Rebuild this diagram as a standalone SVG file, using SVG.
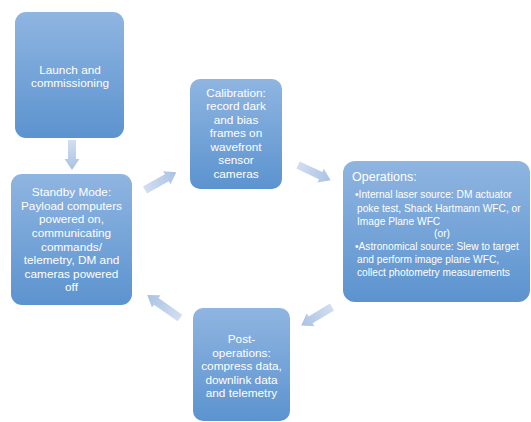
<svg xmlns="http://www.w3.org/2000/svg" width="531" height="422" viewBox="0 0 531 422">
<defs>
<linearGradient id="boxg" x1="0" y1="0" x2="0" y2="1">
<stop offset="0" stop-color="#8fb5e1"/>
<stop offset="1" stop-color="#5c93cf"/>
</linearGradient>
<linearGradient id="arrg" x1="0" y1="0" x2="1" y2="0">
<stop offset="0" stop-color="#d2def0"/>
<stop offset="1" stop-color="#a9c2e3"/>
</linearGradient>
</defs>
<style>
.box{fill:url(#boxg);}
.arr{fill:url(#arrg);}
text{font-family:"Liberation Sans",Arial,sans-serif;fill:#ffffff;}
.t{font-size:11.8px;text-anchor:middle;}
.s{font-size:10.2px;}
.h{font-size:12.5px;}
</style>
<g id="connectors">
<path class="arr" transform="translate(72,140) rotate(90)" d="M0,-4 L19,-4 L19,-7.5 L30,0 L19,7.5 L19,4 L0,4 Z"/>
<path class="arr" transform="translate(145,190) rotate(-29.4)" d="M0,-4 L25,-4 L25,-7.5 L36,0 L25,7.5 L25,4 L0,4 Z"/>
<path class="arr" transform="translate(298,165) rotate(25.1)" d="M0,-4 L25,-4 L25,-7.5 L36,0 L25,7.5 L25,4 L0,4 Z"/>
<path class="arr" transform="translate(332,307) rotate(149)" d="M0,-4 L25,-4 L25,-7.5 L36,0 L25,7.5 L25,4 L0,4 Z"/>
<path class="arr" transform="translate(180,318) rotate(-145)" d="M0,-4 L29,-4 L29,-7.5 L40,0 L29,7.5 L29,4 L0,4 Z"/>
</g>
<g id="launch">
<rect class="box" x="15" y="12" width="109" height="126" rx="11"/>
<text class="t" x="70" y="74">Launch and</text>
<text class="t" x="70" y="87">commissioning</text>
</g>
<g id="standby">
<rect class="box" x="11" y="174" width="121" height="131" rx="11"/>
<text class="t" x="71.5" y="196">Standby Mode:</text>
<text class="t" x="71.5" y="209.5">Payload computers</text>
<text class="t" x="71.5" y="223">powered on,</text>
<text class="t" x="71.5" y="237">communicating</text>
<text class="t" x="71.5" y="250.5">commands/</text>
<text class="t" x="71.5" y="264">telemetry, DM and</text>
<text class="t" x="71.5" y="277.5">cameras powered</text>
<text class="t" x="71.5" y="291">off</text>
</g>
<g id="calibration">
<rect class="box" x="190" y="79" width="92" height="110" rx="10"/>
<text class="t" x="236" y="96.5">Calibration:</text>
<text class="t" x="236" y="110">record dark</text>
<text class="t" x="236" y="123.5">and bias</text>
<text class="t" x="236" y="137">frames on</text>
<text class="t" x="236" y="150.5">wavefront</text>
<text class="t" x="236" y="164">sensor</text>
<text class="t" x="236" y="177.5">cameras</text>
</g>
<g id="operations">
<rect class="box" x="343" y="161" width="187" height="141" rx="12"/>
<text class="h" x="352" y="181">Operations:</text>
<text class="s" x="355" y="198">•Internal laser source: DM actuator</text>
<text class="s" x="357" y="211.5">poke test, Shack Hartmann WFC, or</text>
<text class="s" x="357" y="224.5">Image Plane WFC</text>
<text class="s" x="442" y="237" text-anchor="middle">(or)</text>
<text class="s" x="355" y="250">•Astronomical source: Slew to target</text>
<text class="s" x="357" y="263">and perform image plane WFC,</text>
<text class="s" x="357" y="275.5">collect photometry measurements</text>
</g>
<g id="post">
<rect class="box" x="193" y="308" width="97" height="113" rx="10"/>
<text class="t" x="241.5" y="343">Post-</text>
<text class="t" x="241.5" y="356.5">operations:</text>
<text class="t" x="241.5" y="370">compress data,</text>
<text class="t" x="241.5" y="383.5">downlink data</text>
<text class="t" x="241.5" y="397">and telemetry</text>
</g>
</svg>
